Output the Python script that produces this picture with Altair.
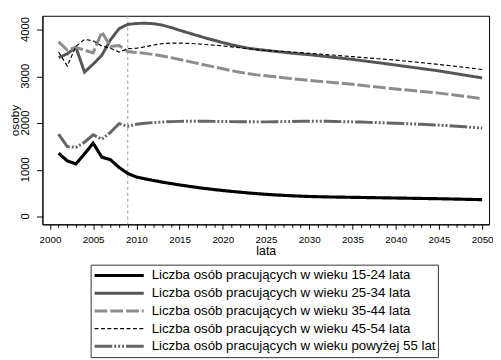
import altair as alt
import pandas as pd

years = list(range(2001, 2051))

series_names = [
    "Liczba osób pracujących w wieku 15-24 lata",
    "Liczba osób pracujących w wieku 25-34 lata",
    "Liczba osób pracujących w wieku 35-44 lata",
    "Liczba osób pracujących w wieku 45-54 lata",
    "Liczba osób pracujących w wieku powyżej 55 lat",
]

age_15_24 = [1354, 1190, 1125, 1340, 1570, 1270, 1214, 1050, 920, 845,
             805, 770, 735, 705, 675, 648, 622, 598, 576, 556,
             537, 520, 503, 488, 474, 462, 452, 443, 435, 428,
             423, 419, 416, 413, 410, 407, 404, 401, 398, 395,
             392, 389, 386, 383, 380, 376, 372, 368, 364, 360]

age_25_34 = [3400, 3480, 3620, 3090, 3260, 3450, 3780, 4020, 4110, 4130,
             4135, 4125, 4095, 4045, 3985, 3930, 3875, 3820, 3770, 3720,
             3675, 3635, 3600, 3575, 3555, 3535, 3515, 3495, 3478, 3462,
             3442, 3422, 3402, 3382, 3362, 3338, 3314, 3290, 3265, 3240,
             3215, 3190, 3165, 3140, 3115, 3085, 3055, 3025, 2995, 2965]

age_35_44 = [3740, 3560, 3620, 3560, 3500, 3950, 3640, 3660, 3530, 3510,
             3490, 3465, 3435, 3400, 3360, 3320, 3280, 3240, 3200, 3160,
             3120, 3085, 3055, 3030, 3010, 2990, 2970, 2950, 2930, 2910,
             2895, 2880, 2862, 2845, 2828, 2808, 2788, 2768, 2748, 2730,
             2712, 2694, 2676, 2658, 2640, 2618, 2594, 2570, 2546, 2520]

age_45_54 = [3520, 3220, 3640, 3790, 3760, 3650, 3600, 3520, 3590, 3600,
             3630, 3670, 3700, 3710, 3710, 3705, 3695, 3680, 3665, 3650,
             3630, 3610, 3590, 3570, 3550, 3540, 3530, 3518, 3505, 3490,
             3478, 3465, 3450, 3435, 3420, 3405, 3390, 3375, 3360, 3345,
             3328, 3310, 3292, 3272, 3252, 3232, 3212, 3190, 3168, 3145]

age_55_plus = [1761, 1495, 1480, 1590, 1747, 1656, 1800, 1986, 1930, 1972,
               1995, 2010, 2022, 2030, 2035, 2037, 2038, 2037, 2035, 2033,
               2030, 2028, 2026, 2025, 2025, 2027, 2030, 2033, 2036, 2038,
               2038, 2036, 2033, 2029, 2025, 2020, 2014, 2008, 2001, 1995,
               1988, 1980, 1972, 1964, 1955, 1945, 1933, 1920, 1905, 1890]

x_ticks = list(range(2000, 2051))
y_ticks = [0, 1000, 2000, 3000, 4000]
marker_year = [2009]

rows = []
for name, vals in zip(series_names, [age_15_24, age_25_34, age_35_44, age_45_54, age_55_plus]):
    for yr, v in zip(years, vals):
        rows.append({"rok": yr, "osoby": v, "seria": name})
df = pd.DataFrame(rows)
df_mark = pd.DataFrame({"rok": marker_year})
df_yticks = pd.DataFrame({"wartosc": y_ticks})

x_scale = alt.Scale(domain=[1999.13, 2050.8], nice=False, zero=False)
y_scale = alt.Scale(domain=[-168, 4295], nice=False, zero=False)

font = "Liberation Sans"

legend = alt.Legend(
    title=None, orient="none", legendX=49, legendY=253, direction="vertical",
    symbolType="stroke", symbolSize=2500, clipHeight=18, rowPadding=0,
    labelFont=font, labelFontSize=13.5, labelColor="black", labelOffset=6,
    labelLimit=400, strokeColor="#333333", padding=2, symbolOpacity=1,
)

colors = ["#000000", "#555555", "#8c8c8c", "#000000", "#666666"]
dashes = [[1, 0], [1, 0], [13, 3], [4, 2.5], [18, 2, 2, 2, 2, 2, 2, 2]]
widths = [3.2, 3, 3, 1.2, 3]

x_axis = alt.Axis(
    orient="bottom", values=x_ticks, format="d",
    labelExpr="datum.value % 5 === 0 ? datum.label : ''",
    labelOverlap=False,
    tickSize={"condition": {"test": "datum.value % 5 === 0", "value": 5}, "value": 3},
    labelFontSize=10, labelPadding=5, title="lata",
    titleFontSize=12.5, titlePadding=1, grid=False,
)

y_axis = alt.Axis(
    values=y_ticks, tickSize=6, labels=False,
    title="osoby", titleFontSize=12, titlePadding=15, grid=False,
)

rule = alt.Chart(df_mark).mark_rule(color="#9a9a9a", strokeDash=[3, 3], strokeWidth=1).encode(
    x=alt.X("rok:Q", scale=x_scale, axis=x_axis),
)

lines = alt.Chart(df).mark_line().encode(
    x=alt.X("rok:Q", scale=x_scale, axis=x_axis),
    y=alt.Y("osoby:Q", scale=y_scale, axis=y_axis),
    color=alt.Color("seria:N", scale=alt.Scale(domain=series_names, range=colors), legend=legend),
    strokeDash=alt.StrokeDash("seria:N", scale=alt.Scale(type="ordinal", domain=series_names, range=dashes), legend=legend),
    strokeWidth=alt.StrokeWidth("seria:N", scale=alt.Scale(type="ordinal", domain=series_names, range=widths), legend=legend),
    order=alt.Order("rok:Q"),
)

ytick_labels = alt.Chart(df_yticks).mark_text(
    angle=270, align="center", baseline="middle", font=font, fontSize=11.5, color="black",
).encode(
    y=alt.Y("wartosc:Q", scale=y_scale, axis=y_axis),
    x=alt.value(-16.5),
    text=alt.Text("wartosc:Q", format="d"),
)

chart = alt.layer(rule, lines, ytick_labels).properties(
    width=454, height=212,
    autosize=alt.AutoSizeParams(type="none"),
    padding={"left": 35, "top": 5, "right": 4, "bottom": 135},
    background="white",
).configure_view(
    stroke="black", strokeWidth=1
).configure_axis(
    domainColor="black", tickColor="black", labelColor="black", titleColor="black",
    labelFont=font, titleFont=font, titleFontWeight="normal", grid=False,
)

chart.save("out.html", embed_options={"renderer": "svg", "actions": False})
